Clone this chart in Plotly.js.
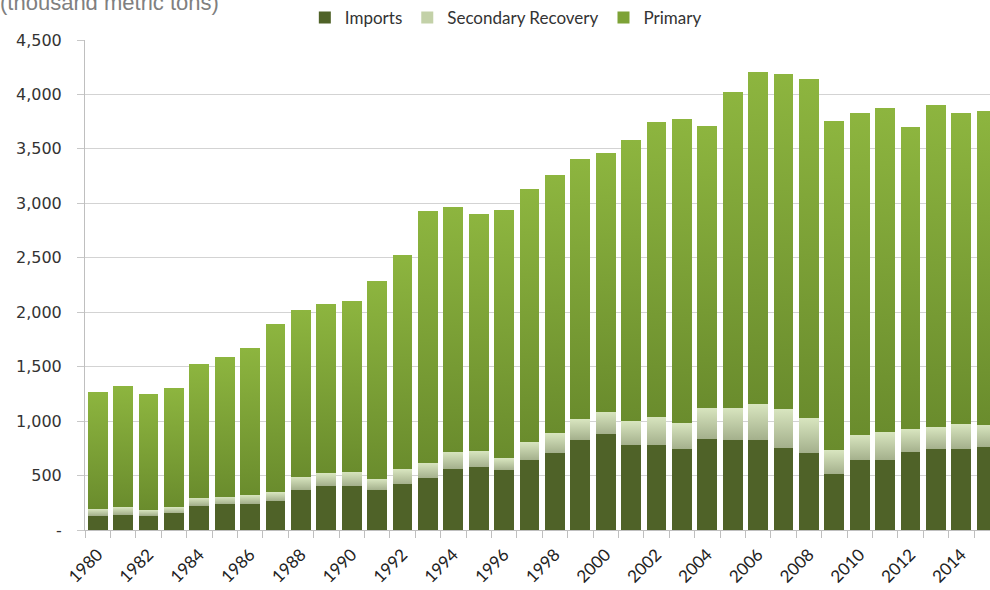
<!DOCTYPE html>
<html>
<head>
<meta charset="utf-8">
<script src="https://cdn.plot.ly/plotly-3.0.1.min.js"></script>
<style>
html,body{margin:0;padding:0;background:#fff;overflow:hidden;}
#chart{width:990px;height:590px;}
</style>
</head>
<body>
<div id="chart"></div>
<script>
var years = [1980,1981,1982,1983,1984,1985,1986,1987,1988,1989,1990,1991,1992,1993,1994,1995,1996,1997,
             1998,1999,2000,2001,2002,2003,2004,2005,2006,2007,2008,2009,2010,2011,2012,2013,2014,2015];
var imports = [131,141,131,153,225,236,242,269,370,407,407,367,419,474,563,576,551,643,
               707,827,879,778,778,741,833,827,827,756,707,514,640,643,713,741,747,765];
var secondary = [62,67,53,55,72,70,79,77,117,113,129,101,138,144,156,149,107,165,
                 181,189,208,220,263,239,290,296,327,352,319,218,235,254,212,202,224,202];
var primary = [1074,1117,1066,1097,1223,1279,1354,1544,1533,1560,1569,1822,1973,2312,2247,2174,2281,2323,
               2369,2388,2372,2584,2709,2795,2587,2897,3049,3083,3113,3028,2958,2979,2776,2963,2856,2884];
var seriesNames = ['Imports','Secondary Recovery','Primary'];
var yTickVals = [0,500,1000,1500,2000,2500,3000,3500,4000,4500];
var yTickText = ['-','500','1,000','1,500','2,000','2,500','3,000','3,500','4,000','4,500'];
var xTickVals = [1980,1982,1984,1986,1988,1990,1992,1994,1996,1998,2000,2002,2004,2006,2008,2010,2012,2014];
var xTickText = ['1980','1982','1984','1986','1988','1990','1992','1994','1996','1998','2000','2002','2004','2006','2008','2010','2012','2014'];
var unitLabel = '(thousand metric tons)';

var colors = ['#4F6228','#C3D1A8','#7DA236'];
var values = [imports, secondary, primary];

var data = values.map(function(v,i){
  return {type:'bar', x:years, y:v, name:seriesNames[i],
    marker:{color:colors[i], line:{width:0}}, hoverinfo:'skip'};
});

var layout = {
  width:990, height:590,
  margin:{l:85, r:0, t:40, b:60, pad:0},
  barmode:'stack', bargap:0.224,
  paper_bgcolor:'#ffffff', plot_bgcolor:'#ffffff',
  font:{family:'Lato, sans-serif', color:'#222'},
  showlegend:true,
  legend:{orientation:'h', x:0.465, xanchor:'center', y:1.045, yanchor:'middle',
    font:{family:'Lato, sans-serif', size:17, color:'#333'}, itemwidth:30, tracegroupgap:0,
    traceorder:'normal', bgcolor:'rgba(0,0,0,0)'},
  annotations:[{text:unitLabel, xref:'paper', yref:'paper', x:-86/905, xanchor:'left',
    y:1+(40-16)/490, yanchor:'bottom', showarrow:false, borderpad:0,
    font:{family:'Liberation Sans, Arial, sans-serif', size:22, color:'#808080'}}],
  xaxis:{type:'linear', range:[1979.5, 2015.13], tickmode:'array', tickvals:xTickVals, ticktext:xTickText,
    tickangle:-45, ticks:'', showgrid:false, zeroline:false, showline:true, linecolor:'#BFBFBF', linewidth:1,
    ticklabelstandoff:7,
    tickfont:{family:'Lato, sans-serif', size:17, color:'#222'},
    minor:{tick0:1979.5, dtick:1, ticks:'outside', ticklen:7, tickcolor:'#BFBFBF', tickwidth:1, showgrid:false}},
  yaxis:{range:[0,4500], tickmode:'array', tickvals:yTickVals, ticktext:yTickText,
    ticks:'outside', ticklen:7, tickcolor:'#C8C8C8', showgrid:true, gridcolor:'#D3D3D3', gridwidth:1,
    showline:true, linecolor:'#BFBFBF', linewidth:1, zeroline:false, ticklabelstandoff:12,
    tickfont:{family:'DejaVu Sans, sans-serif', size:16, color:'#333'}}
};

Plotly.newPlot('chart', data, layout, {staticPlot:true, displayModeBar:false}).then(function(gd){
  var ns = 'http://www.w3.org/2000/svg';
  var svg = gd.querySelector('.main-svg');
  var defs = svg.querySelector('defs');
  if(!defs){ defs = document.createElementNS(ns,'defs'); svg.insertBefore(defs, svg.firstChild); }
  function addGrad(id, top, bottom){
    var g = document.createElementNS(ns,'linearGradient');
    g.setAttribute('id', id);
    g.setAttribute('x1','0'); g.setAttribute('y1','0'); g.setAttribute('x2','0'); g.setAttribute('y2','1');
    [[0,top],[1,bottom]].forEach(function(s){
      var st = document.createElementNS(ns,'stop');
      st.setAttribute('offset', s[0]); st.setAttribute('stop-color', s[1]);
      g.appendChild(st);
    });
    defs.appendChild(g);
  }
  addGrad('gradSec', '#D8E5BF', '#A4B08C');
  addGrad('gradPri', '#8DB53F', '#6A8C2D');
  var traces = gd.querySelectorAll('.barlayer .trace');
  var fills = [null, 'url(#gradSec)', 'url(#gradPri)'];
  traces.forEach(function(t, i){
    if(!fills[i]) return;
    t.querySelectorAll('path').forEach(function(p){ p.style.fill = fills[i]; });
  });
});
</script>
</body>
</html>
